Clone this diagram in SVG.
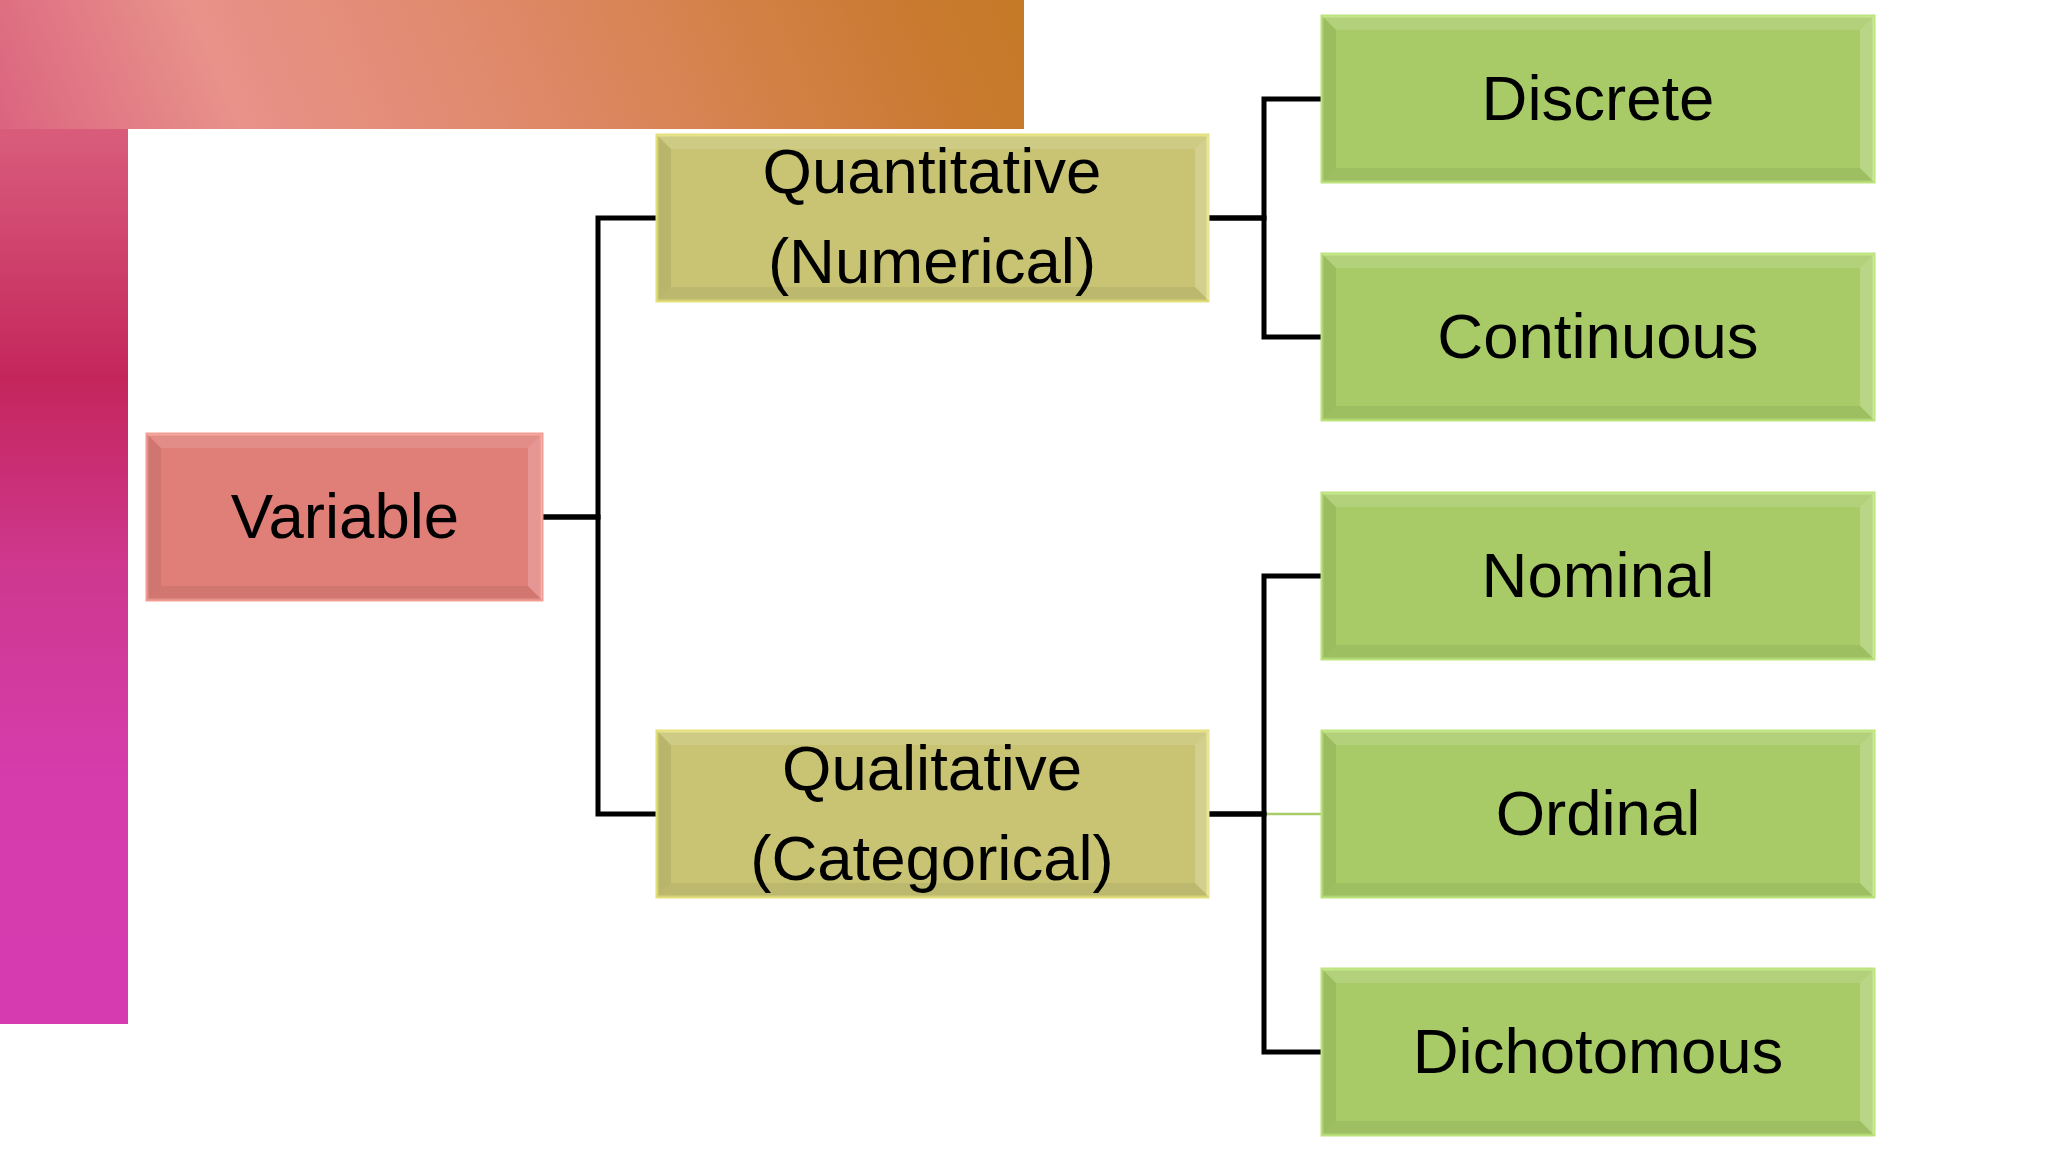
<svg xmlns="http://www.w3.org/2000/svg" xmlns:xlink="http://www.w3.org/1999/xlink" width="2048" height="1152" viewBox="0 0 2048 1152">
<style>
  .lbl{font-family:"Liberation Sans",Arial,sans-serif;font-size:63.5px;fill:#000;text-anchor:middle}
  .red{fill:#e07e78;stroke:#f39c93;stroke-width:3}
  .yel{fill:#c8c474;stroke:#e4e07c;stroke-width:3}
  .grn{fill:#a8cb68;stroke:#bde47c;stroke-width:3}
  .hi{fill:#ffffff;opacity:0.12}
  .hi2{fill:#ffffff;opacity:0.2}
  .sh{fill:#000000;opacity:0.07}
  .sh2{fill:#000000;opacity:0.06}
  .conn{fill:none;stroke:#000;stroke-width:5;stroke-linejoin:miter}
  .conn-g{fill:none;stroke:#a8cc68;stroke-width:2.5}
</style>
<defs>
  <linearGradient id="gTop" gradientUnits="userSpaceOnUse" x1="0" y1="128" x2="1024" y2="-300">
    <stop offset="0" stop-color="#db6480"/>
    <stop offset="0.2" stop-color="#e8928a"/>
    <stop offset="0.42" stop-color="#e08a6e"/>
    <stop offset="0.62" stop-color="#d6824c"/>
    <stop offset="0.8" stop-color="#c97a30"/>
    <stop offset="0.9" stop-color="#c47a26"/>
  </linearGradient>
  <linearGradient id="gLeft" gradientUnits="userSpaceOnUse" x1="0" y1="0" x2="0" y2="1024">
    <stop offset="0" stop-color="#e06a80"/>
    <stop offset="0.14" stop-color="#d85a7a"/>
    <stop offset="0.37" stop-color="#c4265c"/>
    <stop offset="0.56" stop-color="#cf3890"/>
    <stop offset="0.76" stop-color="#d63cab"/>
    <stop offset="1" stop-color="#d63cb0"/>
  </linearGradient>
  <g id="bevel395">
    <polygon class="hi" points="0,0 395,0 381,14 14,14"/>
    <polygon class="hi2" points="395,0 395,166 381,152 381,14"/>
    <polygon class="sh2" points="0,166 395,166 381,152 14,152"/>
    <polygon class="sh" points="0,0 0,166 14,152 14,14"/>
  </g>
  <g id="bevel552">
    <polygon class="hi" points="0,0 552,0 538,14 14,14"/>
    <polygon class="hi2" points="552,0 552,166 538,152 538,14"/>
    <polygon class="sh2" points="0,166 552,166 538,152 14,152"/>
    <polygon class="sh" points="0,0 0,166 14,152 14,14"/>
  </g>
</defs>

<rect width="2048" height="1152" fill="#ffffff"/>
<g id="background">
  <rect x="0" y="129" width="128" height="895" fill="url(#gLeft)"/>
  <rect x="0" y="0" width="1024" height="129" fill="url(#gTop)"/>
</g>

<g id="connectors">
  <path class="conn-g" d="M1208 814 H1322"/>
  <path class="conn" d="M542 517 H598 V218 H657"/>
  <path class="conn" d="M542 517 H598 V814 H657"/>
  <path class="conn" d="M1208 218 H1264 V99 H1322"/>
  <path class="conn" d="M1208 218 H1264 V337 H1322"/>
  <path class="conn" d="M1208 814 H1264 V576 H1322"/>
  <path class="conn" d="M1208 814 H1264 V1052 H1322"/>
</g>

<g id="node-variable">
  <rect class="red" x="147" y="434" width="395" height="166"/>
  <use xlink:href="#bevel395" x="147" y="434"/>
  <text class="lbl" x="345" y="538">Variable</text>
</g>

<g id="node-quantitative">
  <rect class="yel" x="657" y="135" width="551" height="166"/>
  <use xlink:href="#bevel552" x="657" y="135"/>
  <text class="lbl" x="932" y="193">Quantitative</text>
  <text class="lbl" x="932" y="283">(Numerical)</text>
</g>

<g id="node-qualitative">
  <rect class="yel" x="657" y="731" width="551" height="166"/>
  <use xlink:href="#bevel552" x="657" y="731"/>
  <text class="lbl" x="932" y="790">Qualitative</text>
  <text class="lbl" x="932" y="880">(Categorical)</text>
</g>

<g id="node-discrete">
  <rect class="grn" x="1322" y="16" width="552" height="166"/>
  <use xlink:href="#bevel552" x="1322" y="16"/>
  <text class="lbl" x="1598" y="120">Discrete</text>
</g>

<g id="node-continuous">
  <rect class="grn" x="1322" y="254" width="552" height="166"/>
  <use xlink:href="#bevel552" x="1322" y="254"/>
  <text class="lbl" x="1598" y="358">Continuous</text>
</g>

<g id="node-nominal">
  <rect class="grn" x="1322" y="493" width="552" height="166"/>
  <use xlink:href="#bevel552" x="1322" y="493"/>
  <text class="lbl" x="1598" y="597">Nominal</text>
</g>

<g id="node-ordinal">
  <rect class="grn" x="1322" y="731" width="552" height="166"/>
  <use xlink:href="#bevel552" x="1322" y="731"/>
  <text class="lbl" x="1598" y="835">Ordinal</text>
</g>

<g id="node-dichotomous">
  <rect class="grn" x="1322" y="969" width="552" height="166"/>
  <use xlink:href="#bevel552" x="1322" y="969"/>
  <text class="lbl" x="1598" y="1073">Dichotomous</text>
</g>
</svg>
